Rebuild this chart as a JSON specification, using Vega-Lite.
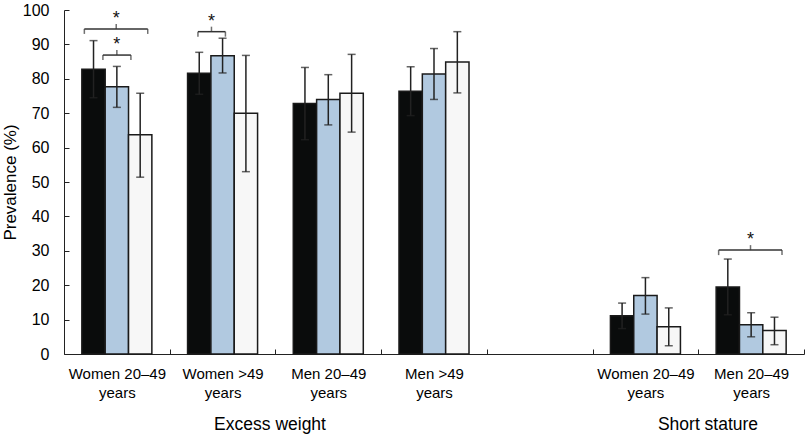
{
  "$schema": "https://vega.github.io/schema/vega-lite/v6.json",
  "width": 740,
  "height": 344,
  "autosize": {"type": "none"},
  "padding": {"left": 64, "top": 10, "right": 1, "bottom": 85},
  "background": "white",
  "config": {
    "view": {"stroke": null},
    "font": "Liberation Sans",
    "axis": {"domainColor": "#222", "tickColor": "#222", "labelColor": "#000", "titleColor": "#000", "grid": false},
    "axisY": {"tickSize": -5, "labelPadding": 20, "labelFontSize": 16, "titleFontSize": 17, "titleFontWeight": "normal", "titlePadding": 3}
  },
  "datasets": {
    "bars": [
      {"cat": "W2049_EW", "series": "A", "value": 82.8, "lo": 74.5, "hi": 91.1},
      {"cat": "W2049_EW", "series": "B", "value": 77.7, "lo": 71.7, "hi": 83.6},
      {"cat": "W2049_EW", "series": "C", "value": 63.7, "lo": 51.4, "hi": 75.8},
      {"cat": "W49_EW", "series": "A", "value": 81.6, "lo": 75.5, "hi": 87.7},
      {"cat": "W49_EW", "series": "B", "value": 86.7, "lo": 81.7, "hi": 91.8},
      {"cat": "W49_EW", "series": "C", "value": 70.0, "lo": 53.0, "hi": 86.8},
      {"cat": "M2049_EW", "series": "A", "value": 72.8, "lo": 62.3, "hi": 83.3},
      {"cat": "M2049_EW", "series": "B", "value": 74.0, "lo": 66.6, "hi": 81.2},
      {"cat": "M2049_EW", "series": "C", "value": 75.8, "lo": 64.5, "hi": 87.1},
      {"cat": "M49_EW", "series": "A", "value": 76.4, "lo": 69.3, "hi": 83.5},
      {"cat": "M49_EW", "series": "B", "value": 81.4, "lo": 74.0, "hi": 88.8},
      {"cat": "M49_EW", "series": "C", "value": 84.9, "lo": 75.9, "hi": 93.7},
      {"cat": "W2049_SS", "series": "A", "value": 11.1, "lo": 7.4, "hi": 14.8},
      {"cat": "W2049_SS", "series": "B", "value": 17.0, "lo": 11.6, "hi": 22.2},
      {"cat": "W2049_SS", "series": "C", "value": 7.9, "lo": 2.4, "hi": 13.4},
      {"cat": "M2049_SS", "series": "A", "value": 19.5, "lo": 11.4, "hi": 27.6},
      {"cat": "M2049_SS", "series": "B", "value": 8.5, "lo": 5.0, "hi": 12.0},
      {"cat": "M2049_SS", "series": "C", "value": 6.8, "lo": 2.7, "hi": 10.7}
    ],
    "brackets": [
      {"bracket": "b1", "cat": "W2049_EW", "y": 94.5},
      {"bracket": "b2", "cat": "W2049_EW", "y": 86.9},
      {"bracket": "b3", "cat": "W49_EW", "y": 93.7},
      {"bracket": "b4", "cat": "M2049_SS", "y": 30.2}
    ],
    "groups": [
      {"cat": "W49_EW", "label": "Excess weight"},
      {"cat": "W2049_SS", "label": "Short stature"}
    ]
  },
  "encoding": {
    "x": {
      "field": "cat",
      "type": "nominal",
      "scale": {"domain": ["W2049_EW", "W49_EW", "M2049_EW", "M49_EW", "gap", "W2049_SS", "M2049_SS"], "paddingInner": 0, "paddingOuter": 0},
      "axis": {
        "title": null,
        "labelAngle": 0,
        "tickBand": "extent",
        "tickSize": -5,
        "labelPadding": 17,
        "labelFontSize": 15,
        "labelLineHeight": 19,
        "labelExpr": "datum.value == 'W2049_EW' || datum.value == 'W2049_SS' ? ['Women 20–49','years'] : datum.value == 'W49_EW' ? ['Women >49','years'] : datum.value == 'M2049_EW' || datum.value == 'M2049_SS' ? ['Men 20–49','years'] : datum.value == 'M49_EW' ? ['Men >49','years'] : ''"
      }
    }
  },
  "layer": [
    {
      "data": {"name": "bars"},
      "mark": {"type": "bar", "stroke": "#1a1a1a", "strokeWidth": 1.5},
      "encoding": {
        "xOffset": {"field": "series", "type": "nominal", "scale": {"domain": ["A", "B", "C"], "paddingInner": 0, "paddingOuter": 0.765}},
        "y": {"field": "value", "type": "quantitative", "scale": {"domain": [0, 100], "nice": false, "zero": true}, "axis": {"title": "Prevalence (%)", "values": [0, 10, 20, 30, 40, 50, 60, 70, 80, 90, 100], "tickCount": 11, "labelOverlap": false, "labelSeparation": 0, "labelBound": false, "labelFlush": false}},
        "fill": {"field": "series", "type": "nominal", "scale": {"domain": ["A", "B", "C"], "range": ["#0a0c0c", "#b1c9e0", "#f7f7f7"]}, "legend": null}
      }
    },
    {
      "data": {"name": "bars"},
      "mark": {"type": "rule", "color": "#222", "strokeWidth": 1.5},
      "encoding": {
        "xOffset": {"field": "series", "type": "nominal"},
        "y": {"field": "lo", "type": "quantitative"},
        "y2": {"field": "hi"}
      }
    },
    {
      "data": {"name": "bars"},
      "mark": {"type": "tick", "orient": "horizontal", "color": "#222", "size": 8, "thickness": 1.5},
      "encoding": {
        "xOffset": {"field": "series", "type": "nominal"},
        "y": {"field": "lo", "type": "quantitative"}
      }
    },
    {
      "data": {"name": "bars"},
      "mark": {"type": "tick", "orient": "horizontal", "color": "#222", "size": 8, "thickness": 1.5},
      "encoding": {
        "xOffset": {"field": "series", "type": "nominal"},
        "y": {"field": "hi", "type": "quantitative"}
      }
    },
    {
      "data": {"name": "brackets"},
      "transform": [{"filter": {"field": "bracket", "oneOf": ["b1", "b4"]}}],
      "encoding": {"y": {"field": "y", "type": "quantitative"}},
      "layer": [
        {"mark": {"type": "rule", "color": "#333", "strokeWidth": 1.5}, "encoding": {"x": {"field": "cat", "type": "nominal", "bandPosition": 0.1925}, "x2": {"field": "cat", "bandPosition": 0.792}}},
        {"mark": {"type": "tick", "orient": "vertical", "color": "#333", "size": 5, "thickness": 1.5, "yOffset": 2.5}, "encoding": {"x": {"field": "cat", "type": "nominal", "bandPosition": 0.1925}}},
        {"mark": {"type": "tick", "orient": "vertical", "color": "#333", "size": 5, "thickness": 1.5, "yOffset": 2.5}, "encoding": {"x": {"field": "cat", "type": "nominal", "bandPosition": 0.792}}},
        {"mark": {"type": "tick", "orient": "vertical", "color": "#333", "size": 5, "thickness": 1.5, "yOffset": -2.5}, "encoding": {"x": {"field": "cat", "type": "nominal", "bandPosition": 0.494}}},
        {"mark": {"type": "text", "text": "*", "fontSize": 18, "baseline": "alphabetic", "dy": -5, "color": "#111"}, "encoding": {"x": {"field": "cat", "type": "nominal", "bandPosition": 0.494}}}
      ]
    },
    {
      "data": {"name": "brackets"},
      "transform": [{"filter": {"field": "bracket", "equal": "b2"}}],
      "encoding": {"y": {"field": "y", "type": "quantitative"}},
      "layer": [
        {"mark": {"type": "rule", "color": "#333", "strokeWidth": 1.5}, "encoding": {"x": {"field": "cat", "type": "nominal", "bandPosition": 0.368}, "x2": {"field": "cat", "bandPosition": 0.633}}},
        {"mark": {"type": "tick", "orient": "vertical", "color": "#333", "size": 5, "thickness": 1.5, "yOffset": 2.5}, "encoding": {"x": {"field": "cat", "type": "nominal", "bandPosition": 0.368}}},
        {"mark": {"type": "tick", "orient": "vertical", "color": "#333", "size": 5, "thickness": 1.5, "yOffset": 2.5}, "encoding": {"x": {"field": "cat", "type": "nominal", "bandPosition": 0.633}}},
        {"mark": {"type": "tick", "orient": "vertical", "color": "#333", "size": 5, "thickness": 1.5, "yOffset": -2.5}, "encoding": {"x": {"field": "cat", "type": "nominal", "bandPosition": 0.5}}},
        {"mark": {"type": "text", "text": "*", "fontSize": 18, "baseline": "alphabetic", "dy": -5, "color": "#111"}, "encoding": {"x": {"field": "cat", "type": "nominal", "bandPosition": 0.5}}}
      ]
    },
    {
      "data": {"name": "brackets"},
      "transform": [{"filter": {"field": "bracket", "equal": "b3"}}],
      "encoding": {"y": {"field": "y", "type": "quantitative"}},
      "layer": [
        {"mark": {"type": "rule", "color": "#333", "strokeWidth": 1.5}, "encoding": {"x": {"field": "cat", "type": "nominal", "bandPosition": 0.267}, "x2": {"field": "cat", "bandPosition": 0.527}}},
        {"mark": {"type": "tick", "orient": "vertical", "color": "#333", "size": 5, "thickness": 1.5, "yOffset": 2.5}, "encoding": {"x": {"field": "cat", "type": "nominal", "bandPosition": 0.267}}},
        {"mark": {"type": "tick", "orient": "vertical", "color": "#333", "size": 5, "thickness": 1.5, "yOffset": 2.5}, "encoding": {"x": {"field": "cat", "type": "nominal", "bandPosition": 0.527}}},
        {"mark": {"type": "tick", "orient": "vertical", "color": "#333", "size": 5, "thickness": 1.5, "yOffset": -2.5}, "encoding": {"x": {"field": "cat", "type": "nominal", "bandPosition": 0.395}}},
        {"mark": {"type": "text", "text": "*", "fontSize": 18, "baseline": "alphabetic", "dy": -5, "color": "#111"}, "encoding": {"x": {"field": "cat", "type": "nominal", "bandPosition": 0.395}}}
      ]
    },
    {
      "data": {"name": "groups"},
      "transform": [{"filter": {"field": "label", "equal": "Excess weight"}}],
      "mark": {"type": "text", "fontSize": 17.5, "baseline": "middle", "dy": 71, "color": "#000"},
      "encoding": {
        "x": {"field": "cat", "type": "nominal", "bandPosition": 0.949},
        "y": {"datum": 0, "type": "quantitative"},
        "text": {"field": "label"}
      }
    },
    {
      "data": {"name": "groups"},
      "transform": [{"filter": {"field": "label", "equal": "Short stature"}}],
      "mark": {"type": "text", "fontSize": 17.5, "baseline": "middle", "dy": 71, "color": "#000"},
      "encoding": {
        "x": {"field": "cat", "type": "nominal", "bandPosition": 1.092},
        "y": {"datum": 0, "type": "quantitative"},
        "text": {"field": "label"}
      }
    }
  ]
}
